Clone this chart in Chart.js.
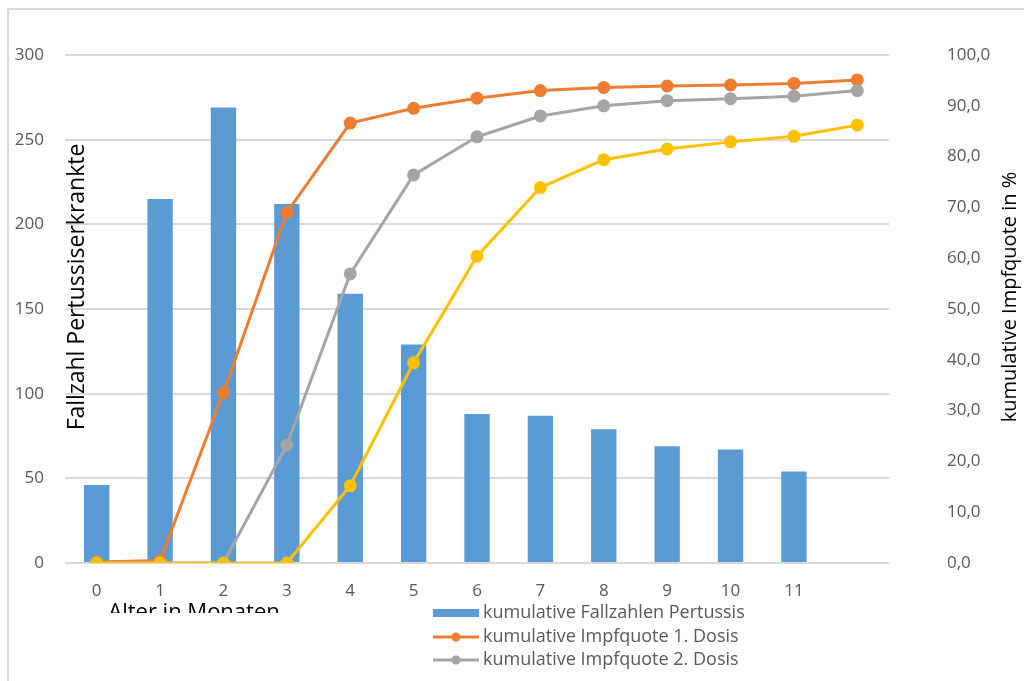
<!DOCTYPE html>
<html>
<head>
<meta charset="utf-8">
<script src="https://cdn.jsdelivr.net/npm/chart.js@4"></script>
<style>
  html, body { margin: 0; padding: 0; background: #fff; }
  #wrap { width: 1024px; height: 681px; position: relative; }
</style>
</head>
<body>
<div id="wrap"><canvas id="pertussisChart" width="1024" height="681"></canvas></div>
<script>
// Alter in Monaten (letzte Kategorie ohne Beschriftung)
var months = ["0", "1", "2", "3", "4", "5", "6", "7", "8", "9", "10", "11", ""];
var cases = [46, 215, 269, 212, 159, 129, 88, 87, 79, 69, 67, 54, null];
var dose1 = [0.2, 0.5, 33.5, 69, 86.6, 89.5, 91.5, 93, 93.6, 93.9, 94.1, 94.4, 95.1];
var dose2 = [0, 0, 0, 23.2, 56.9, 76.4, 83.9, 88, 90, 91, 91.4, 91.9, 93];
var dose3 = [0, 0, 0, 0, 15.2, 39.4, 60.4, 73.9, 79.4, 81.5, 82.9, 84, 86.2];

var blue = "#5B9BD5";
var orange = "#ED7D31";
var grey = "#A5A5A5";
var yellow = "#FFC000";
var tickColor = "#595959";
var fontName = "'Open Sans', 'Liberation Sans', sans-serif";

function lineSet(label, data, color, order) {
    return {
        type: "line",
        label: label,
        data: data,
        yAxisID: "y1",
        borderColor: color,
        backgroundColor: color,
        borderWidth: 3,
        pointRadius: 5,
        pointHoverRadius: 5,
        tension: 0,
        order: order
    };
}

// Achsentitel, Rahmen und Legende wie im Original
var extras = {
    id: "extras",
    afterDraw: function (chart) {
        var ctx = chart.ctx;
        ctx.save();
        ctx.strokeStyle = "#d9d9d9";
        ctx.lineWidth = 2;
        ctx.beginPath();
        ctx.moveTo(8, 681);
        ctx.lineTo(8, 9);
        ctx.lineTo(1024, 9);
        ctx.stroke();

        ctx.fillStyle = "#000";
        ctx.textAlign = "center";
        ctx.textBaseline = "middle";
        ctx.save();
        ctx.font = "23px " + fontName;
        ctx.translate(77, 287);
        ctx.rotate(-Math.PI / 2);
        ctx.fillText("Fallzahl Pertussiserkrankte", 0, 0);
        ctx.restore();
        ctx.save();
        ctx.font = "20px " + fontName;
        ctx.translate(1010, 297);
        ctx.rotate(-Math.PI / 2);
        ctx.fillText("kumulative Impfquote in %", 0, 0);
        ctx.restore();

        // x-Titel, unten abgeschnitten
        ctx.save();
        ctx.beginPath();
        ctx.rect(0, 590, 1024, 23);
        ctx.clip();
        ctx.font = "22px " + fontName;
        ctx.textBaseline = "top";
        ctx.fillText("Alter in Monaten", 194, 602);
        ctx.restore();

        var items = [
            { text: "kumulative Fallzahlen Pertussis", color: blue, bar: true, y: 613 },
            { text: "kumulative Impfquote 1. Dosis", color: orange, bar: false, y: 637 },
            { text: "kumulative Impfquote 2. Dosis", color: grey, bar: false, y: 660 }
        ];
        ctx.font = "18px " + fontName;
        ctx.textAlign = "left";
        ctx.textBaseline = "middle";
        items.forEach(function (it) {
            ctx.fillStyle = it.color;
            ctx.strokeStyle = it.color;
            if (it.bar) {
                ctx.fillRect(433, it.y - 4, 46, 8);
            } else {
                ctx.lineWidth = 3;
                ctx.beginPath();
                ctx.moveTo(433, it.y);
                ctx.lineTo(479, it.y);
                ctx.stroke();
                ctx.beginPath();
                ctx.arc(456, it.y, 4.5, 0, Math.PI * 2);
                ctx.fill();
            }
            ctx.fillStyle = tickColor;
            ctx.fillText(it.text, 483, it.y);
        });
        ctx.restore();
    }
};

function noPad(s) {
    s.paddingTop = 0;
    s.paddingBottom = 0;
}

new Chart("pertussisChart", {
    data: {
        labels: months,
        datasets: [
            {
                type: "bar",
                label: "kumulative Fallzahlen Pertussis",
                data: cases,
                yAxisID: "y",
                backgroundColor: blue,
                barPercentage: 0.4,
                categoryPercentage: 1,
                order: 4
            },
            lineSet("kumulative Impfquote 1. Dosis", dose1, orange, 3),
            lineSet("kumulative Impfquote 2. Dosis", dose2, grey, 2),
            lineSet("kumulative Impfquote 3. Dosis", dose3, yellow, 1)
        ]
    },
    options: {
        responsive: false,
        animation: false,
        layout: { padding: { top: 55, left: 0, right: 0, bottom: 0 } },
        plugins: {
            legend: { display: false },
            tooltip: { enabled: false }
        },
        scales: {
            x: {
                offset: true,
                grid: { display: false, drawTicks: false },
                border: { display: false },
                ticks: { color: tickColor, padding: 18, font: { family: fontName, size: 17 } },
                afterFit: function (s) { s.height = 118; }
            },
            y: {
                position: "left",
                min: 0,
                max: 300,
                grid: { color: "#d9d9d9", lineWidth: 2, drawTicks: false },
                border: { display: false },
                ticks: { stepSize: 50, color: tickColor, padding: 21, font: { family: fontName, size: 17 } },
                afterFit: function (s) { s.width = 65; noPad(s); }
            },
            y1: {
                position: "right",
                min: 0,
                max: 100,
                grid: { display: false, drawTicks: false },
                border: { display: false },
                ticks: {
                    stepSize: 10,
                    color: tickColor,
                    padding: 58,
                    font: { family: fontName, size: 17 },
                    callback: function (v) { return v.toFixed(1).replace(".", ","); }
                },
                afterFit: function (s) { s.width = 135; noPad(s); }
            }
        }
    },
    plugins: [extras]
});
</script>
</body>
</html>
